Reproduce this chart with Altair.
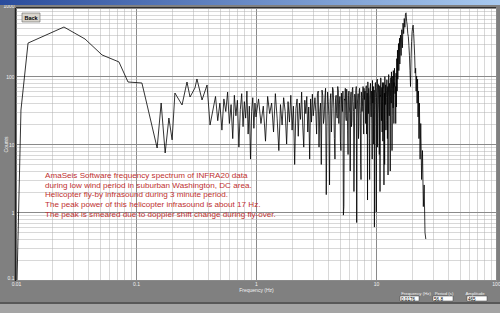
import altair as alt
import pandas as pd

# ---- spectrum data (frequency in Hz, amplitude in counts) ----
low_freq = [0.0102, 0.0110, 0.0126, 0.0251, 0.0376, 0.0521, 0.0721, 0.0858, 0.112, 0.121,
            0.150, 0.162, 0.175, 0.188, 0.200, 0.211, 0.242, 0.266, 0.282, 0.310,
            0.322, 0.355, 0.391, 0.414]
low_amp = [0.1, 31.6, 305, 525, 350, 204, 161, 81.6, 78.9, 44.4,
           8.73, 40.1, 7.38, 24.1, 11.5, 56.2, 37.5, 81.6, 49.1, 66.7,
           90.4, 44.4, 73.8, 19.0]

segA_freq = [0.46, 0.48, 0.50, 0.52, 0.54, 0.56, 0.58, 0.60, 0.62, 0.64, 0.66, 0.68, 0.70, 0.72,
             0.74, 0.76, 0.78, 0.80, 0.82, 0.84, 0.86, 0.88, 0.90, 0.92, 0.94, 0.96, 0.98, 1.00]
segA_amp = [50, 22, 40, 16, 46, 30, 58, 20, 38, 12, 52, 26, 44, 9,
            32, 55, 18, 42, 24, 60, 14, 36, 6, 30, 48, 17, 40, 25]

segB_freq = [1.05, 1.10, 1.15, 1.20, 1.25, 1.30, 1.35, 1.40, 1.45, 1.50, 1.55, 1.60, 1.65, 1.70,
             1.75, 1.80, 1.85, 1.90, 1.95, 2.00, 2.05, 2.10, 2.15, 2.20, 2.25, 2.30, 2.35, 2.40,
             2.45, 2.50, 2.55, 2.60, 2.65, 2.70, 2.75, 2.80, 2.85, 2.90, 2.95, 3.00]
segB_amp = [46, 20, 36, 11, 50, 28, 40, 15, 55, 24, 8, 38, 19, 48,
            30, 10, 42, 21, 52, 16, 36, 5, 33, 46, 13, 40, 23, 58,
            19, 9, 44, 28, 50, 15, 35, 6, 46, 21, 54, 26]

segC_freq = [3.1, 3.2, 3.3, 3.4, 3.5, 3.6, 3.7, 3.8, 3.9, 4.0, 4.1, 4.2, 4.3, 4.4, 4.5, 4.6, 4.7,
             4.8, 4.9, 5.0, 5.1, 5.2, 5.3, 5.4, 5.5, 5.6, 5.7, 5.8, 5.9, 6.0, 6.1, 6.2, 6.3, 6.4,
             6.5, 6.6, 6.7, 6.8, 6.9, 7.0, 7.1, 7.2, 7.3, 7.4, 7.5, 7.6, 7.7, 7.8, 7.9, 8.0]
segC_amp = [48, 14, 60, 30, 5, 52, 25, 66, 18, 42, 2.5, 55, 33, 62, 12, 46, 28,
            70, 20, 50, 8, 38, 60, 1.2, 44, 26, 64, 16, 52, 35, 4, 58, 22, 68,
            30, 10, 48, 62, 0.7, 40, 55, 18, 66, 28, 3, 50, 36, 70, 14, 45]

segC2_freq = [3.15, 3.25, 3.35, 3.45, 3.55, 3.65, 3.75, 3.85, 3.95, 4.05, 4.15, 4.25, 4.35,
              4.45, 4.55, 4.65, 4.75, 4.85, 4.95, 5.05, 5.15, 5.25, 5.35, 5.45, 5.55, 5.65,
              5.75, 5.85, 5.95, 6.05, 6.15, 6.25, 6.35, 6.45, 6.55, 6.65, 6.75, 6.85, 6.95,
              7.05, 7.15, 7.25, 7.35, 7.45, 7.55, 7.65, 7.75, 7.85, 7.95]
segC2_amp = [30, 55, 9, 40, 62, 20, 48, 1.8, 58, 26, 44, 15, 68,
             35, 6, 52, 24, 60, 38, 11, 56, 30, 0.9, 46, 66, 22,
             40, 7, 60, 28, 50, 18, 64, 42, 2, 54, 33, 70, 24,
             46, 12, 62, 36, 5, 58, 30, 48, 20, 66]

segD_freq = [8.1, 8.2, 8.3, 8.4, 8.5, 8.6, 8.7, 8.8, 8.9, 9.0, 9.1, 9.2, 9.3, 9.4, 9.5, 9.6,
             9.7, 9.8, 9.9, 10.0, 10.1, 10.2, 10.3, 10.4, 10.5, 10.6, 10.7, 10.8, 10.9, 11.0,
             11.1, 11.2, 11.3, 11.4, 11.5, 11.6, 11.7, 11.8, 11.9, 12.0, 12.1, 12.2, 12.3, 12.4,
             12.5, 12.6, 12.7, 12.8, 12.9, 13.0, 13.1, 13.2, 13.3, 13.4, 13.5, 13.6, 13.7, 13.8,
             13.9, 14.0, 14.1, 14.2, 14.3, 14.4]
segD_amp = [60, 20, 72, 35, 1.5, 52, 66, 12, 45, 78, 25, 58, 6, 40, 70, 30,
            0.6, 55, 80, 18, 48, 65, 9, 38, 75, 28, 60, 2, 50, 84,
            22, 68, 42, 11, 64, 80, 30, 5, 56, 74, 16, 48, 88, 36,
            68, 3.5, 58, 86, 26, 72, 14, 50, 95, 40, 80, 8, 62, 100,
            34, 90, 20, 70, 110, 55]

segD2_freq = [8.15, 8.25, 8.35, 8.45, 8.55, 8.65, 8.75, 8.85, 8.95, 9.05, 9.15, 9.25, 9.35,
              9.45, 9.55, 9.65, 9.75, 9.85, 9.95, 10.05, 10.15, 10.25, 10.35, 10.45, 10.55,
              10.65, 10.75, 10.85, 10.95, 11.05, 11.15, 11.25, 11.35, 11.45, 11.55, 11.65,
              11.75, 11.85, 11.95, 12.05, 12.15, 12.25, 12.35, 12.45, 12.55, 12.65, 12.75,
              12.85, 12.95, 13.05, 13.15, 13.25, 13.35, 13.45, 13.55, 13.65, 13.75, 13.85,
              13.95, 14.05, 14.15, 14.25, 14.35]
segD2_amp = [40, 66, 14, 56, 82, 28, 50, 3, 70, 36, 60, 20, 86,
             44, 10, 62, 32, 76, 48, 1, 58, 90, 24, 68, 40,
             7, 72, 52, 94, 30, 60, 15, 80, 46, 66, 2.5,
             56, 98, 38, 74, 22, 62, 85, 12, 70, 50, 105,
             32, 78, 60, 4, 88, 44, 115, 66, 26, 92, 58,
             120, 40, 80, 130, 75]

peak_freq = [14.5, 14.6, 14.7, 14.8, 14.9, 15.0, 15.1, 15.2, 15.4, 15.5, 15.7, 15.8,
             16.0, 16.2, 16.4, 16.6, 16.8, 17.0, 17.2, 17.4, 17.6, 17.8, 18.0, 18.2, 18.4,
             18.6, 18.8, 19.0, 19.2, 19.4, 19.6, 19.8, 20.0, 20.2, 20.4, 20.6, 20.8, 21.0,
             21.2, 21.4, 21.6, 21.8, 22.0, 22.2, 22.4, 22.6, 22.8, 23.0, 23.3, 23.6,
             24.0, 24.4, 24.8, 25.2, 25.6, 26.0]
peak_amp = [70, 20, 110, 35, 180, 60, 240, 90, 300, 120, 360, 150,
            400, 200, 480, 260, 600, 420, 700, 520, 820, 850, 640, 560, 420,
            380, 280, 200, 120, 70, 180, 320, 450, 520, 560, 420, 300, 200,
            110, 130, 60, 100, 40, 90, 25, 60, 12, 40, 6, 20,
            3, 8, 1.2, 2.5, 0.5, 0.4]

note_lines = [
    "AmaSeis Software frequency spectrum of INFRA20 data",
    "during low wind period in suburban Washington, DC area.",
    "Helicopter fly-by infrasound during 3 minute period.",
    "The peak power of this helicopter infrasound is about 17 Hz.",
    "The peak is smeared due to doppler shift change during fly-over.",
]
readout_labels = ["Frequency (Hz)", "Period (s)", "Amplitude"]
readout_values = ["0.0176", "56.8", "465"]

freq = (low_freq + segA_freq + segB_freq + segC_freq + segC2_freq
        + segD_freq + segD2_freq + peak_freq)
amp = (low_amp + segA_amp + segB_amp + segC_amp + segC2_amp
       + segD_amp + segD2_amp + peak_amp)
df = pd.DataFrame({"freq": freq, "amp": amp}).sort_values("freq")

W, H = 480, 272
FONT = "Liberation Sans"
LBL = "#f2f2f2"
major = "abs(log(datum.value)/LN10 - round(log(datum.value)/LN10)) < 0.01"

x_ticks = [m * 10.0 ** e for e in range(-2, 2) for m in range(1, 10)] + [100.0]
y_ticks = [m * 10.0 ** e for e in range(-1, 3) for m in range(1, 10)] + [1000.0]


def grid_axis(values, title, **kw):
    return alt.Axis(
        values=values,
        grid=True,
        gridColor={"condition": {"test": major, "value": "#8a8a8a"}, "value": "#b0b0b0"},
        gridDash={"condition": {"test": major, "value": []}, "value": [1, 1]},
        gridWidth=1,
        labelExpr=f"{major} ? format(datum.value, '~g') : ''",
        labelFontSize=5,
        labelFont=FONT,
        labelColor=LBL,
        labelOverlap=False,
        labelFlush=False,
        ticks=False,
        domain=False,
        title=title,
        titleFontSize=5,
        titleFont=FONT,
        titleColor=LBL,
        titleFontWeight="normal",
        **kw,
    )


one = pd.DataFrame({"k": [0]})

spectrum = alt.Chart(df).mark_line(color="black", strokeWidth=0.8, clip=True).encode(
    x=alt.X("freq:Q", scale=alt.Scale(type="log", domain=[0.01, 100], nice=False),
            axis=grid_axis(x_ticks, "Frequency (Hz)", labelPadding=1, titlePadding=1)),
    y=alt.Y("amp:Q", scale=alt.Scale(type="log", domain=[0.1, 1000], nice=False),
            axis=grid_axis(y_ticks, "Counts", labelPadding=2,
                           labelBaseline={"condition": {"test": "datum.value < 0.2 || datum.value > 500",
                                                        "value": "bottom"}, "value": "middle"},
                           titleX=-11, titleY=H / 2, titleAlign="center",
                           titleBaseline="middle", titleAngle=270)),
    order=alt.Order("freq:Q"),
)

note = alt.Chart(one).mark_text(
    align="left", baseline="alphabetic", fontSize=8.1, font=FONT, color="#c0302f", lineHeight=9.7
).encode(x=alt.value(29), y=alt.value(170), text=alt.value(note_lines))

# window chrome
title_bar = alt.Chart(one).mark_rect(
    color=alt.Gradient(gradient="linear",
                       stops=[alt.GradientStop(color="#2a4c9c", offset=0),
                              alt.GradientStop(color="#a8caf0", offset=1)],
                       x1=0, x2=1, y1=0, y2=0)
).encode(x=alt.value(-16), x2=alt.value(484), y=alt.value(-8), y2=alt.value(-3))

top_edge = alt.Chart(one).mark_rule(color="#303030", strokeWidth=1).encode(
    x=alt.value(0), x2=alt.value(W), y=alt.value(-0.5))
left_edge = alt.Chart(one).mark_rule(color="#202020", strokeWidth=1.5).encode(
    x=alt.value(-0.5), y=alt.value(0), y2=alt.value(H + 1))

status_line = alt.Chart(one).mark_rule(color="#303030", strokeWidth=1.2).encode(
    x=alt.value(-16), x2=alt.value(484), y=alt.value(295))
status_band = alt.Chart(one).mark_rect(color="#a4a4a4").encode(
    x=alt.value(-16), x2=alt.value(484), y=alt.value(296), y2=alt.value(305))

back_btn = alt.Chart(one).mark_rect(color="#d8d4cc", stroke="#6a6a6a", strokeWidth=0.6).encode(
    x=alt.value(6), x2=alt.value(24), y=alt.value(5), y2=alt.value(14))
back_txt = alt.Chart(one).mark_text(fontSize=5.5, font=FONT, fontWeight="bold", color="black").encode(
    x=alt.value(15), y=alt.value(10), text=alt.value("Back"))

rd = pd.DataFrame({
    "label": readout_labels,
    "value": readout_values,
    "cx": [400, 428, 459],
    "bx": [384, 417, 451],
    "bx2": [403, 437, 471],
})
rd_lbl = alt.Chart(rd).mark_text(fontSize=4.3, font=FONT, color=LBL, baseline="alphabetic").encode(
    x=alt.X("cx:Q", scale=None), y=alt.value(286.5), text="label:N")
rd_box = alt.Chart(rd).mark_rect(color="white", stroke="#404040", strokeWidth=0.5).encode(
    x=alt.X("bx:Q", scale=None), x2="bx2:Q", y=alt.value(288), y2=alt.value(293))
rd_val = alt.Chart(rd).mark_text(fontSize=4.6, font=FONT, color="black", align="left",
                                 baseline="alphabetic", dx=1).encode(
    x=alt.X("bx:Q", scale=None), y=alt.value(292.5), text="value:N")

chart = alt.layer(
    spectrum, note, title_bar, top_edge, left_edge, status_line, status_band,
    back_btn, back_txt, rd_box, rd_lbl, rd_val
).resolve_scale(x="independent").properties(
    width=W, height=H,
    padding={"left": 16, "top": 8, "right": 4, "bottom": 33},
    autosize=alt.AutoSizeParams(type="none"),
).configure(background="#808080").configure_view(fill="white", strokeOpacity=0)

chart.save("out.html", embed_options={"renderer": "svg", "actions": False})
